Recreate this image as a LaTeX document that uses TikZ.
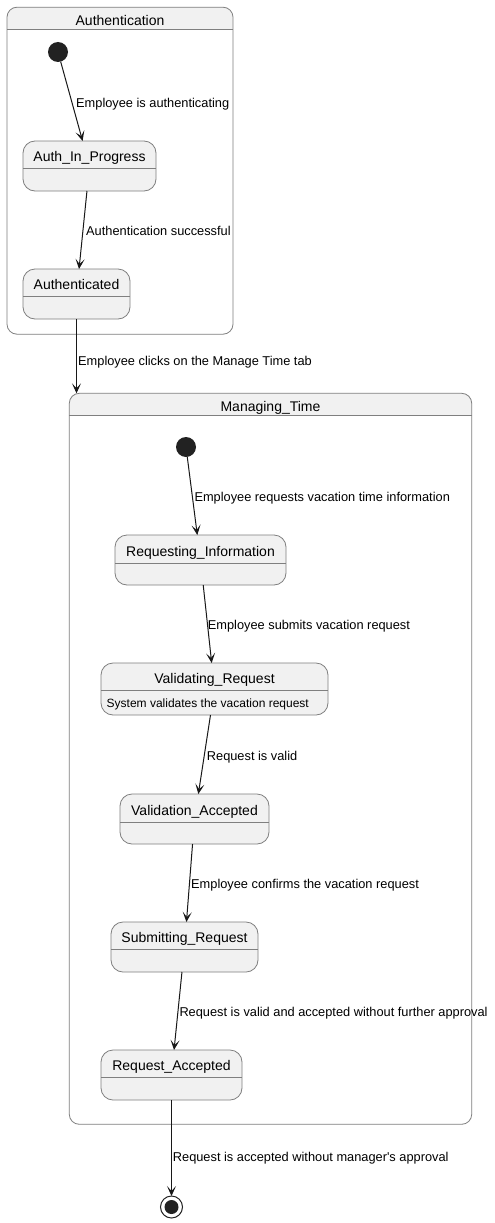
\documentclass[tikz,border=0pt]{standalone}
\usepackage{fontspec}
\setmainfont{Liberation Sans}
\usetikzlibrary{arrows.meta}
\definecolor{stfill}{HTML}{F1F1F1}
\definecolor{stline}{HTML}{181818}
\definecolor{bord}{HTML}{7F7F7F}
\definecolor{dot}{HTML}{222222}
\tikzset{
  statebox/.style={draw=bord, line width=0.8pt, fill=stfill, rounded corners=12pt, inner sep=0pt, outer sep=0pt, minimum height=50pt},
  cluster/.style={draw=none, fill=none, inner sep=0pt, outer sep=0pt},
  clborder/.style={draw=bord, line width=0.8pt, rounded corners=10pt},
  sep/.style={draw=bord, line width=0.8pt},
  sname/.style={anchor=base, inner sep=0pt, font=\fontsize{14}{16}\selectfont},
  body/.style={anchor=base west, inner sep=0pt, font=\fontsize{12}{14}\selectfont},
  lbl/.style={anchor=base west, inner sep=0pt, font=\fontsize{12.8}{15}\selectfont},
  initst/.style={circle, fill=dot, minimum size=20pt, inner sep=0pt, outer sep=0pt},
  finalst/.style={circle, draw=dot, line width=1pt, fill=white, minimum size=22pt, inner sep=0pt, outer sep=0pt},
  trans/.style={draw=stline, line width=1pt, -{Stealth[length=10pt, width=9pt, inset=5pt]}},
}
\begin{document}
\begin{tikzpicture}[x=1pt, y=-1pt]
\useasboundingbox[fill=white] (0,0) rectangle (495,1223);

% ---- Authentication cluster
\node[cluster, minimum width=226pt, minimum height=327pt] (authc) at (120,170.7) {};
\begin{scope}
  \clip[rounded corners=10pt] (authc.north west) rectangle (authc.south east);
  \fill[stfill] (authc.north west) rectangle (authc.east |- 0,29);
\end{scope}
\draw[clborder] (authc.north west) rectangle (authc.south east);
\node[sname] (authct) at (120,26) {Authentication};
\draw[sep] (authc.west |- 0,29) -- (authc.east |- 0,29);

\node[initst] (ai) at (58,52) {};

\node[statebox, minimum width=133pt] (aip) at (89.5,166) {};
\node[sname] (aipt) at (89.5,161) {Auth\_In\_Progress};
\draw[sep] (aip.west |- 0,168) -- (aip.east |- 0,168);

\node[statebox, minimum width=107pt] (aud) at (76.5,294) {};
\node[sname] (audt) at (76.5,289) {Authenticated};
\draw[sep] (aud.west |- 0,296) -- (aud.east |- 0,296);

% ---- Managing_Time cluster
\node[cluster, minimum width=402.4pt, minimum height=731pt] (mtc) at (270.5,758.8) {};
\begin{scope}
  \clip[rounded corners=10pt] (mtc.north west) rectangle (mtc.south east);
  \fill[stfill] (mtc.north west) rectangle (mtc.east |- 0,415);
\end{scope}
\draw[clborder] (mtc.north west) rectangle (mtc.south east);
\node[sname] (mtct) at (270.5,411.7) {Managing\_Time};
\draw[sep] (mtc.west |- 0,415) -- (mtc.east |- 0,415);

\node[initst] (mi) at (186,447) {};

\node[statebox, minimum width=171pt] (ri) at (200.5,560) {};
\node[sname] (rit) at (200.5,556) {Requesting\_Information};
\draw[sep] (ri.west |- 0,563) -- (ri.east |- 0,563);

\node[statebox, minimum width=227pt, minimum height=52pt] (vr) at (214.5,689) {};
\node[sname] (vrt) at (214.5,683) {Validating\_Request};
\draw[sep] (vr.west |- 0,690) -- (vr.east |- 0,690);
\node[body] (vrb) at (106.5,707.5) {System validates the vacation request};

\node[statebox, minimum width=149pt] (va) at (194.5,819) {};
\node[sname] (vat) at (194.5,815) {Validation\_Accepted};
\draw[sep] (va.west |- 0,822) -- (va.east |- 0,822);

\node[statebox, minimum width=147pt] (sr) at (184.5,947) {};
\node[sname] (srt) at (184.5,942) {Submitting\_Request};
\draw[sep] (sr.west |- 0,949) -- (sr.east |- 0,949);

\node[statebox, minimum width=141pt] (ra) at (171.5,1075) {};
\node[sname] (rat) at (171.5,1070) {Request\_Accepted};
\draw[sep] (ra.west |- 0,1077) -- (ra.east |- 0,1077);

\node[finalst] (fin) at (171.5,1207) {};
\node[circle, fill=dot, minimum size=14pt, inner sep=0pt] (fini) at (fin.center) {};

% ---- transitions
\draw[trans] (ai) -- (aip);
\node[lbl] (l1) at (76,107.3) {Employee is authenticating};
\draw[trans] (aip) -- (aud);
\node[lbl] (l2) at (86,235) {Authentication successful};
\draw[trans] (aud.south) -- (aud.south |- mtc.north);
\node[lbl] (l3) at (78,365) {Employee clicks on the Manage Time tab};
\draw[trans] (mi) -- (ri);
\node[lbl] (l4) at (194.3,501.7) {Employee requests vacation time information};
\draw[trans] (ri) -- (vr);
\node[lbl] (l5) at (207.7,629.3) {Employee submits vacation request};
\draw[trans] (vr) -- (va);
\node[lbl] (l6) at (206.7,760.7) {Request is valid};
\draw[trans] (va) -- (sr);
\node[lbl] (l7) at (191,888.3) {Employee confirms the vacation request};
\draw[trans] (sr) -- (ra);
\node[lbl] (l8) at (179.3,1016.7) {Request is valid and accepted without further approval};
\draw[trans] (ra.south) -- (fin.north);
\node[lbl] (l9) at (172.7,1161.7) {Request is accepted without manager\textquotesingle s approval};
\end{tikzpicture}
\end{document}
